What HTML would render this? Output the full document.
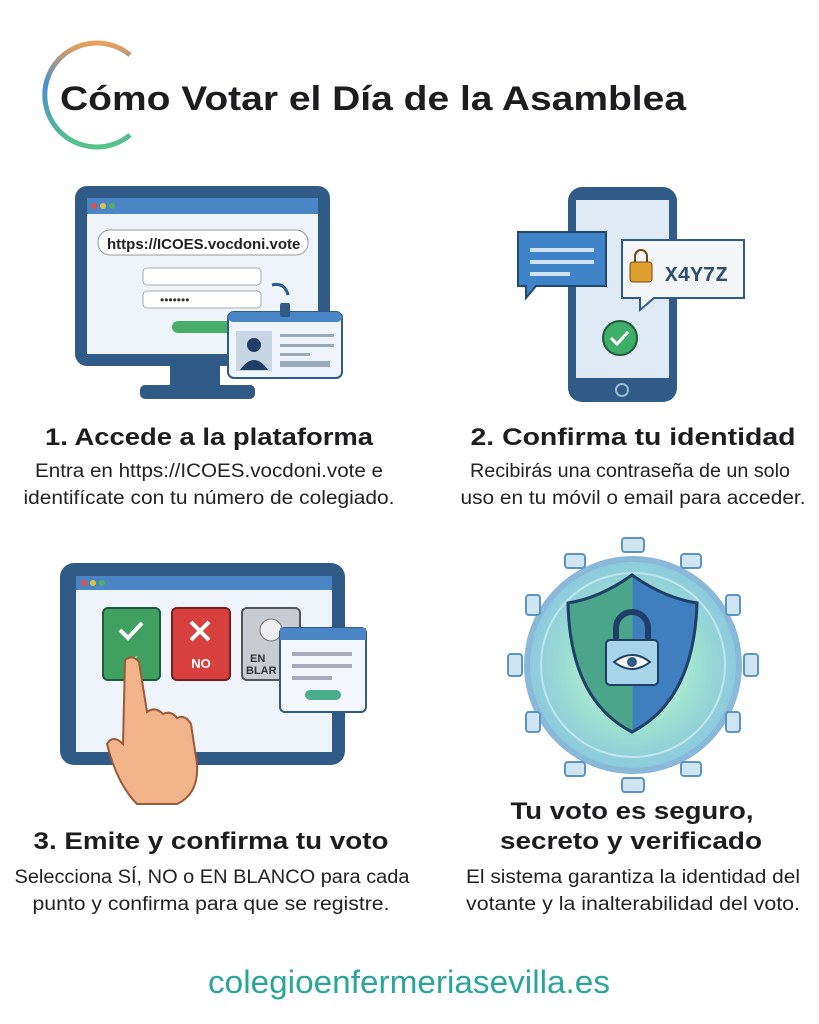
<!DOCTYPE html>
<html><head><meta charset="utf-8"><style>
body{margin:0;background:#fff;}
svg{display:block}
.h{font-family:"Liberation Sans",sans-serif;font-weight:bold;fill:#1d1d1f}
.d{font-family:"Liberation Sans",sans-serif;fill:#222}
</style></head><body>
<svg width="819" height="1024" viewBox="0 0 819 1024" xmlns="http://www.w3.org/2000/svg">
<defs>
<linearGradient id="arc" x1="0" y1="0" x2="0" y2="1"><stop offset="0" stop-color="#e8a05a"/><stop offset=".4" stop-color="#4a8fd0"/><stop offset="1" stop-color="#57c28a"/></linearGradient>
<radialGradient id="glow" cx=".5" cy=".5" r=".5"><stop offset="0" stop-color="#e8fff5"/><stop offset=".6" stop-color="#9ee0cf"/><stop offset="1" stop-color="#8cc8e0"/></radialGradient>
<linearGradient id="sh" x1="0" x2="1"><stop offset=".5" stop-color="#4aa58a"/><stop offset=".5" stop-color="#3f7fbf"/></linearGradient>
</defs>
<path d="M130 55 A52 52 0 1 0 130 135" fill="none" stroke="url(#arc)" stroke-width="5"/>
<text x="60" y="110" class="h" font-size="34" textLength="626" lengthAdjust="spacingAndGlyphs">Cómo Votar el Día de la Asamblea</text>

<!-- Panel 1 monitor -->
<rect x="170" y="360" width="50" height="30" fill="#2f5b86"/>
<rect x="140" y="385" width="115" height="14" rx="5" fill="#2f5b86"/>
<rect x="75" y="186" width="255" height="180" rx="12" fill="#2f5b86"/>
<rect x="87" y="198" width="231" height="156" fill="#eef4fa"/>
<rect x="87" y="198" width="231" height="16" fill="#4a86c5"/>
<circle cx="94" cy="206" r="3" fill="#e05050"/><circle cx="103" cy="206" r="3" fill="#e0c040"/><circle cx="112" cy="206" r="3" fill="#50b060"/>
<rect x="98" y="230" width="210" height="25" rx="12" fill="#fff" stroke="#999"/>
<text x="107" y="249" font-family="Liberation Sans" font-weight="bold" font-size="15" fill="#222">https://ICOES.vocdoni.vote</text>
<rect x="143" y="268" width="118" height="17" rx="4" fill="#fff" stroke="#aaa"/>
<rect x="143" y="291" width="118" height="17" rx="4" fill="#fff" stroke="#aaa"/>
<text x="160" y="304" font-size="12" fill="#333" font-family="Liberation Sans">•••••••</text>
<rect x="172" y="321" width="70" height="12" rx="6" fill="#4aae6a"/>
<path d="M288 295 Q285 282 272 285" fill="none" stroke="#2f5b86" stroke-width="3"/>
<rect x="228" y="312" width="114" height="66" rx="6" fill="#eef4fa" stroke="#2f5b86" stroke-width="2"/>
<rect x="228" y="312" width="114" height="10" rx="5" fill="#4a86c5"/>
<rect x="280" y="303" width="10" height="14" rx="2" fill="#2f5b86"/>
<rect x="236" y="331" width="36" height="40" fill="#c8d6e4"/>
<circle cx="254" cy="345" r="7" fill="#1f3f66"/><path d="M240 370 Q254 350 268 370Z" fill="#1f3f66"/>
<rect x="280" y="334" width="54" height="3" fill="#9ab"/><rect x="280" y="344" width="54" height="3" fill="#9ab"/><rect x="280" y="353" width="30" height="3" fill="#9ab"/><rect x="280" y="361" width="50" height="6" fill="#9ab"/>

<!-- Panel 2 phone -->
<rect x="568" y="187" width="109" height="215" rx="14" fill="#2f5b86"/>
<rect x="576" y="200" width="93" height="178" fill="#dfeaf5"/>
<circle cx="622" cy="390" r="6" fill="none" stroke="#9bc" stroke-width="2"/>
<path d="M518 232 h88 v54 h-70 l-10 12 v-12 h-8z" fill="#3f84c8" stroke="#23496f" stroke-width="2"/>
<rect x="530" y="248" width="64" height="4" fill="#cfe3f5"/><rect x="530" y="260" width="64" height="4" fill="#cfe3f5"/><rect x="530" y="272" width="40" height="4" fill="#cfe3f5"/>
<path d="M622 240 h122 v58 h-90 l-14 12 v-12 h-18z" fill="#f3f5f7" stroke="#2f5b86" stroke-width="2"/>
<rect x="630" y="262" width="22" height="20" rx="3" fill="#e0a030" stroke="#6a4a10"/>
<path d="M635 262 v-6 a6 6 0 0 1 12 0 v6" fill="none" stroke="#6a4a10" stroke-width="2"/>
<text x="665" y="281" font-family="Liberation Mono" font-weight="bold" font-size="21" fill="#2f4f6e">X4Y7Z</text>
<circle cx="620" cy="338" r="17" fill="#3fae68" stroke="#1f5b3a" stroke-width="2"/>
<path d="M611 338 l6 6 l11 -12" fill="none" stroke="#fff" stroke-width="3"/>

<text x="209" y="445" class="h" font-size="24" text-anchor="middle" textLength="328" lengthAdjust="spacingAndGlyphs">1. Accede a la plataforma</text>
<text x="209" y="477" class="d" font-size="19" text-anchor="middle" textLength="348" lengthAdjust="spacingAndGlyphs">Entra en https://ICOES.vocdoni.vote e</text>
<text x="209" y="504" class="d" font-size="19" text-anchor="middle" textLength="371" lengthAdjust="spacingAndGlyphs">identifícate con tu número de colegiado.</text>
<text x="633" y="445" class="h" font-size="24" text-anchor="middle" textLength="325" lengthAdjust="spacingAndGlyphs">2. Confirma tu identidad</text>
<text x="630" y="477" class="d" font-size="19" text-anchor="middle" textLength="320" lengthAdjust="spacingAndGlyphs">Recibirás una contraseña de un solo</text>
<text x="633" y="504" class="d" font-size="19" text-anchor="middle" textLength="345" lengthAdjust="spacingAndGlyphs">uso en tu móvil o email para acceder.</text>

<!-- Panel 3 tablet -->
<rect x="60" y="563" width="285" height="202" rx="14" fill="#2f5b86"/>
<rect x="76" y="576" width="256" height="176" fill="#eef4fa"/>
<rect x="76" y="576" width="256" height="14" fill="#4a86c5"/>
<circle cx="84" cy="583" r="3" fill="#e05050"/><circle cx="93" cy="583" r="3" fill="#e0c040"/><circle cx="102" cy="583" r="3" fill="#50b060"/>
<rect x="103" y="608" width="57" height="72" rx="5" fill="#3fa060" stroke="#1f5b3a" stroke-width="2"/>
<path d="M120 630 l8 8 l14 -15" fill="none" stroke="#fff" stroke-width="4"/>
<text x="131" y="668" font-family="Liberation Sans" font-weight="bold" font-size="13" fill="#fff" text-anchor="middle">SÍ</text>
<rect x="172" y="608" width="58" height="72" rx="5" fill="#d84040" stroke="#7a1f1f" stroke-width="2"/>
<path d="M191 622 l18 18 M209 622 l-18 18" stroke="#fff" stroke-width="4"/>
<text x="201" y="668" font-family="Liberation Sans" font-weight="bold" font-size="13" fill="#fff" text-anchor="middle">NO</text>
<rect x="242" y="608" width="58" height="72" rx="5" fill="#c8ccd2" stroke="#555" stroke-width="2"/>
<circle cx="271" cy="630" r="11" fill="#eee" stroke="#777"/>
<text x="250" y="662" font-family="Liberation Sans" font-weight="bold" font-size="11" fill="#333">EN</text>
<text x="246" y="674" font-family="Liberation Sans" font-weight="bold" font-size="11" fill="#333">BLAR</text>
<rect x="280" y="628" width="86" height="84" rx="5" fill="#f3f6fa" stroke="#2f5b86" stroke-width="2"/>
<rect x="280" y="628" width="86" height="12" fill="#4a86c5"/>
<rect x="292" y="652" width="60" height="4" fill="#aab"/><rect x="292" y="664" width="60" height="4" fill="#aab"/><rect x="292" y="676" width="40" height="4" fill="#aab"/>
<rect x="305" y="690" width="36" height="10" rx="5" fill="#4aae8a"/>
<path d="M125 660 q8 -6 14 2 l8 50 q8 -6 16 2 q8 -4 14 4 q8 -4 14 6 l6 40 q2 30 -20 40 h-40 q-20 -20 -30 -60 q6 -10 16 0 z" fill="#f2b48a" stroke="#9a5a38" stroke-width="2"/>

<!-- Panel 4 -->
<circle cx="633" cy="665" r="106" fill="url(#glow)" stroke="#8ab8d8" stroke-width="6"/>
<circle cx="633" cy="665" r="92" fill="none" stroke="#bfe4ee" stroke-width="2"/>
<g fill="#cfe6f2" stroke="#5a94c0" stroke-width="2">
<rect x="622" y="538" width="22" height="14" rx="3"/><rect x="622" y="778" width="22" height="14" rx="3"/>
<rect x="508" y="654" width="14" height="22" rx="3"/><rect x="744" y="654" width="14" height="22" rx="3"/>
<rect x="565" y="554" width="20" height="14" rx="3"/><rect x="681" y="554" width="20" height="14" rx="3"/>
<rect x="565" y="762" width="20" height="14" rx="3"/><rect x="681" y="762" width="20" height="14" rx="3"/>
<rect x="526" y="595" width="14" height="20" rx="3"/><rect x="726" y="595" width="14" height="20" rx="3"/>
<rect x="526" y="712" width="14" height="20" rx="3"/><rect x="726" y="712" width="14" height="20" rx="3"/>
</g>
<path d="M632 575 Q600 598 568 603 Q570 700 632 732 Q694 700 697 603 Q664 598 632 575Z" fill="url(#sh)" stroke="#1f3f66" stroke-width="3"/>
<rect x="606" y="640" width="52" height="45" rx="4" fill="#a8d4ea" stroke="#1f3f66" stroke-width="2"/>
<path d="M616 640 v-12 a16 16 0 0 1 32 0 v12" fill="none" stroke="#1f3f66" stroke-width="6"/>
<path d="M614 662 q18 -14 36 0 q-18 14 -36 0z" fill="#fff" stroke="#1f3f66" stroke-width="2"/>
<circle cx="632" cy="662" r="5" fill="#2f5b86"/>

<text x="211" y="849" class="h" font-size="24" text-anchor="middle" textLength="355" lengthAdjust="spacingAndGlyphs">3. Emite y confirma tu voto</text>
<text x="212" y="883" class="d" font-size="19" text-anchor="middle" textLength="395" lengthAdjust="spacingAndGlyphs">Selecciona SÍ, NO o EN BLANCO para cada</text>
<text x="211" y="910" class="d" font-size="19" text-anchor="middle" textLength="357" lengthAdjust="spacingAndGlyphs">punto y confirma para que se registre.</text>
<text x="632" y="819" class="h" font-size="24" text-anchor="middle" textLength="243" lengthAdjust="spacingAndGlyphs">Tu voto es seguro,</text>
<text x="631" y="849" class="h" font-size="24" text-anchor="middle" textLength="262" lengthAdjust="spacingAndGlyphs">secreto y verificado</text>
<text x="633" y="883" class="d" font-size="19" text-anchor="middle" textLength="334" lengthAdjust="spacingAndGlyphs">El sistema garantiza la identidad del</text>
<text x="633" y="910" class="d" font-size="19" text-anchor="middle" textLength="334" lengthAdjust="spacingAndGlyphs">votante y la inalterabilidad del voto.</text>

<text x="409" y="993" font-family="Liberation Sans" font-size="32" fill="#2aa59a" text-anchor="middle" textLength="402" lengthAdjust="spacingAndGlyphs">colegioenfermeriasevilla.es</text>
</svg>
</body></html>
